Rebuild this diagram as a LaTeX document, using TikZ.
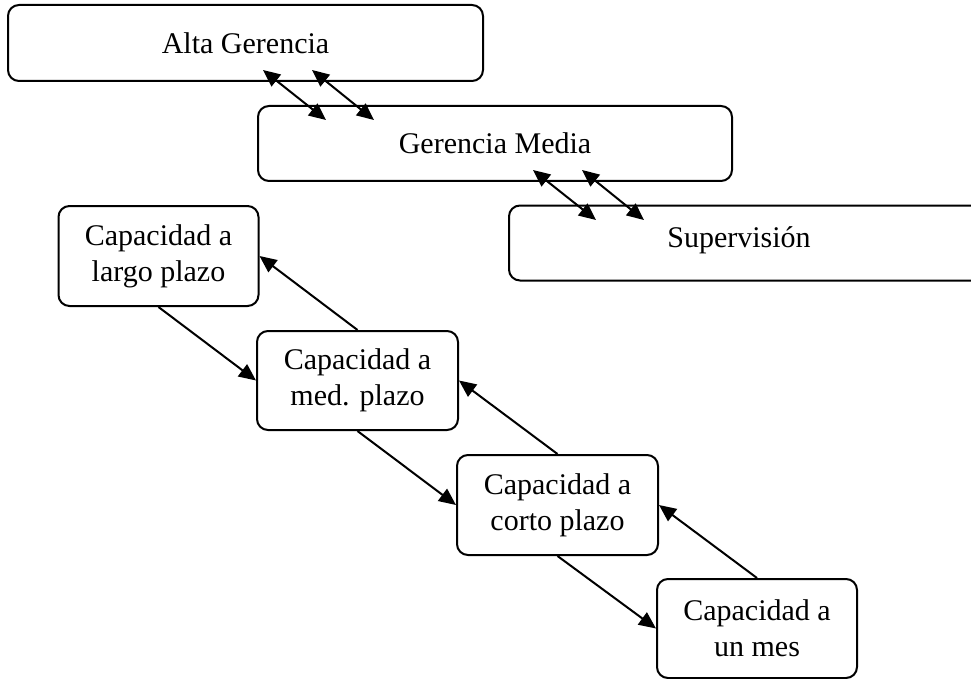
\documentclass[tikz,border=0pt]{standalone}
\usepackage{fontspec}
\setmainfont{Liberation Serif}
\usetikzlibrary{arrows.meta}
\begin{document}
\begin{tikzpicture}[x=1pt,y=-1pt,
  box/.style={draw,line width=2pt,rounded corners=11pt,inner sep=0pt,align=center,font=\fontsize{30}{36}\selectfont},
  conn/.style={line width=2pt,-{Triangle[length=17pt,width=15pt]}},
  dconn/.style={line width=2pt,{Triangle[length=17pt,width=15pt]}-{Triangle[length=17pt,width=15pt]}}]
\useasboundingbox (0,0) rectangle (971,679);
\clip (0,0) rectangle (971,679);
\node[box,minimum width=475pt,minimum height=76pt] (alta) at (245.5,43) {Alta Gerencia};
\node[box,minimum width=474pt,minimum height=75pt] (media) at (495,143.5) {Gerencia Media};
\node[box,minimum width=520pt,minimum height=75pt,anchor=west] (sup) at (508,243) {};
\node (suptext) at (739,240) {\fontsize{30}{36}\selectfont Supervisión};
\node[box,minimum width=200pt,minimum height=100pt] (largo) at (158.5,256) {Capacidad a\\largo plazo};
\node[box,minimum width=201pt,minimum height=99pt] (med) at (357.5,380.5) {Capacidad a\\med. plazo};
\node[box,minimum width=201pt,minimum height=100pt] (corto) at (557.5,505) {Capacidad a\\corto plazo};
\node[box,minimum width=200pt,minimum height=99pt] (mes) at (757,628.5) {Capacidad a\\un mes};
% double arrows
\coordinate (a1) at (263,70); \coordinate (m1) at (326,120);
\coordinate (a2) at (312,70); \coordinate (m2) at (374,120);
\coordinate (m3) at (533,170); \coordinate (s1) at (596,220);
\coordinate (m4) at (582,170); \coordinate (s2) at (644,220);
\draw[dconn] (a1) -- (m1);
\draw[dconn] (a2) -- (m2);
\draw[dconn] (m3) -- (s1);
\draw[dconn] (m4) -- (s2);
% chain
\draw[conn] (largo.south) -- (med.west);
\draw[conn] (med.north) -- (largo.east);
\draw[conn] (med.south) -- (corto.west);
\draw[conn] (corto.north) -- (med.east);
\draw[conn] (corto.south) -- (mes.west);
\draw[conn] (mes.north) -- (corto.east);
\end{tikzpicture}
\end{document}
